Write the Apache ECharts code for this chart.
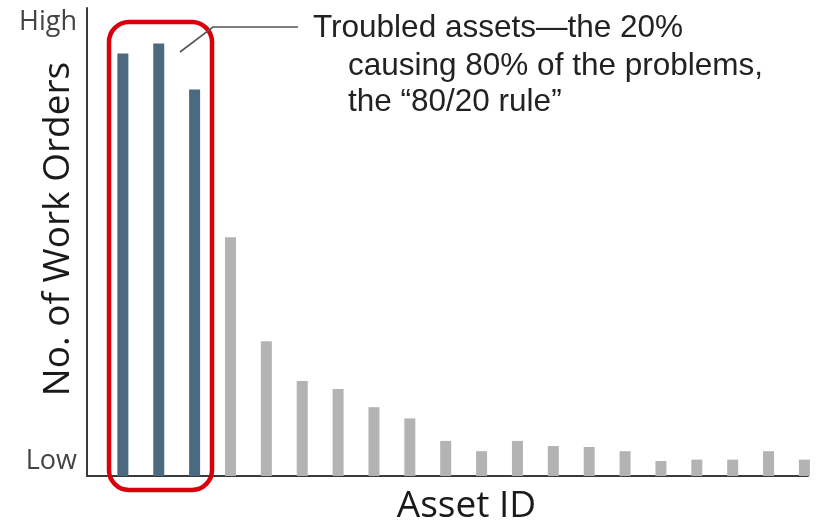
<!DOCTYPE html>
<html>
<head>
<meta charset="utf-8">
<style>
  html, body { margin: 0; padding: 0; background: #fff; }
  #chart { width: 816px; height: 528px; }
</style>
<script src="https://cdn.jsdelivr.net/npm/echarts@6/dist/echarts.min.js"></script>
</head>
<body>
<div id="chart"></div>
<script>
// asset ids along the x axis
const assetIds = [1, 2, 3, 4, 5, 6, 7, 8, 9, 10, 11, 12, 13, 14, 15, 16, 17, 18, 19, 20];
// work orders per asset (relative, 0 = Low, 100 = High)
const workOrders = [90.3, 92.4, 82.6, 51, 28.8, 20.3, 18.6, 14.7, 12.3, 7.5, 5.3, 7.5, 6.4, 6.2, 5.3, 3.2, 3.5, 3.5, 5.3, 3.5];
// the first ones are the troubled assets
const troubledCount = 3;
const yTickLabels = ["Low", "High"];
const noteLines = ["Troubled assets\u2014the 20%", "causing 80% of the problems,", "the \u201c80/20 rule\u201d"];

const chart = echarts.init(document.getElementById("chart"));

const barData = assetIds.map(function (id, i) {
    return {
        value: [id, workOrders[i]],
        itemStyle: { color: i < troubledCount ? "#4b6a7f" : "#b3b3b3" }
    };
});

const noteFont = "31.5px 'Liberation Sans'";

const option = {
    animation: false,
    grid: { left: 87, right: 8, top: 8, bottom: 52, containLabel: false, outerBoundsMode: "none" },
    xAxis: {
        type: "value",
        min: 0,
        max: 20.1,
        name: "Asset ID",
        nameLocation: "middle",
        nameGap: 12,
        nameMoveOverlap: false,
        nameTextStyle: {
            fontFamily: "Open Sans",
            fontSize: 37,
            color: "#1a1a1a",
            padding: [0, 0, 0, 38]
        },
        axisLine: { show: true, lineStyle: { color: "#3a3a3a", width: 2 } },
        axisTick: { show: false },
        axisLabel: { show: false },
        splitLine: { show: false }
    },
    yAxis: {
        type: "value",
        min: 0,
        max: 100,
        interval: 100,
        name: "No. of Work Orders",
        nameLocation: "middle",
        nameRotate: 90,
        nameGap: 10,
        nameMoveOverlap: false,
        nameTextStyle: {
            fontFamily: "Open Sans",
            fontSize: 37,
            color: "#1a1a1a",
            padding: [0, 0, 0, 26]
        },
        axisLine: { show: true, lineStyle: { color: "#3a3a3a", width: 2 } },
        axisTick: { show: false },
        splitLine: { show: false },
        axisLabel: {
            margin: 10,
            formatter: function (v) {
                return v === 0 ? "{lo|" + yTickLabels[0] + "}" : "{hi|" + yTickLabels[1] + "}";
            },
            rich: {
                hi: { fontFamily: "Open Sans", fontSize: 27, color: "#444", padding: [28, 0, 0, 0] },
                lo: { fontFamily: "Open Sans", fontSize: 27, color: "#444", padding: [0, 0, 30, 0] }
            }
        }
    },
    series: [{
        type: "bar",
        barWidth: 11,
        data: barData
    }],
    graphic: [
        {
            // red box around the troubled assets
            type: "rect",
            shape: { x: 109, y: 22, width: 103, height: 468, r: 20 },
            style: { fill: "none", stroke: "#d9000b", lineWidth: 4.5 },
            z: 10
        },
        {
            type: "polyline",
            shape: { points: [[298, 27], [213, 27], [180, 52]] },
            style: { fill: "none", stroke: "#555", lineWidth: 1.6 },
            z: 11
        },
        {
            type: "text",
            left: 313,
            top: 12,
            style: { text: noteLines[0], font: noteFont, fill: "#222" }
        },
        {
            type: "text",
            left: 348,
            top: 50,
            style: { text: noteLines[1], font: noteFont, fill: "#222" }
        },
        {
            type: "text",
            left: 348,
            top: 86,
            style: { text: noteLines[2], font: noteFont, fill: "#222" }
        }
    ]
};

chart.setOption(option);
window.addEventListener("resize", function () {
    chart.resize();
});
</script>
</body>
</html>
